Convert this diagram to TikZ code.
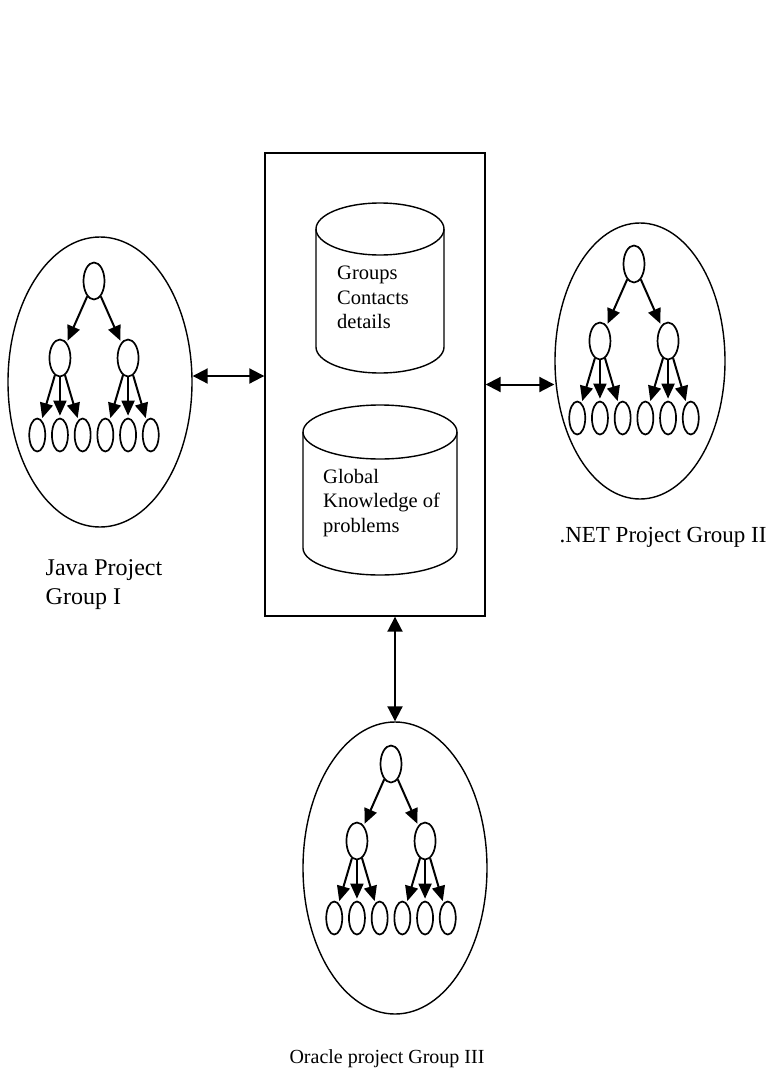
\documentclass[tikz,border=0pt]{standalone}
\usepackage{fontspec}
\setmainfont{Liberation Serif}
\usepackage{tikz-qtree}
\usetikzlibrary{shapes.geometric, arrows.meta, positioning}

\tikzset{
  projgroup/.style={draw, ellipse, line width=1.4pt, inner sep=0pt},
  inode/.style={draw, ellipse, line width=1.7pt, inner sep=0pt, minimum width=21pt, minimum height=37pt},
  lnode/.style={draw, ellipse, line width=1.7pt, inner sep=0pt, minimum width=16pt, minimum height=33pt},
  link/.style={line width=2pt, {Triangle[length=15pt,width=15pt]}-{Triangle[length=15pt,width=15pt]}},
  grouplabel/.style={inner sep=0pt, align=left},
  dbtext/.style={inner sep=0pt, align=left, anchor=north west, font=\fontsize{20.5}{24.5}\selectfont},
}

% one project group: lead, two sub-leads, six members
\newcommand{\grouptree}[1]{%
  \Tree [.\node[inode](#1r){};
          [.\node[inode](#1a){}; \node[lnode](#1a1){}; \node[lnode](#1a2){}; \node[lnode](#1a3){}; ]
          [.\node[inode](#1b){}; \node[lnode](#1b1){}; \node[lnode](#1b2){}; \node[lnode](#1b3){}; ]
        ]}

\begin{document}
\begin{tikzpicture}[x=1pt, y=1pt,
    level distance=77pt, sibling distance=5pt,
    edge from parent/.style={draw, line width=2pt, -{Triangle[length=15pt,width=13pt]}, shorten >=2pt,
      edge from parent path={(\tikzparentnode) -- (\tikzchildnode)}}]
\useasboundingbox (0,0) rectangle (775,-1071);

% central repository
\node[draw, line width=1.4pt, minimum width=220pt, minimum height=463pt, inner sep=0pt] (repo) at (375,-384.5) {};

% databases
\draw[line width=1.4pt] (316,-229) -- (316,-347) arc[start angle=180, end angle=360, x radius=64pt, y radius=26pt] -- (444,-229);
\draw[line width=1.4pt] (380,-229) ellipse [x radius=64pt, y radius=26pt];
\node[dbtext] (contacts) at (337,-266) {Groups\\Contacts\\details};

\draw[line width=1.4pt] (303,-432) -- (303,-548) arc[start angle=180, end angle=360, x radius=77pt, y radius=27pt] -- (457,-432);
\draw[line width=1.4pt] (380,-432) ellipse [x radius=77pt, y radius=27pt];
\node[dbtext] (knowledge) at (323,-469) {Global\\Knowledge of\\problems};

% project groups
\node[projgroup, minimum width=184pt, minimum height=290pt] (java) at (100,-382) {};
\begin{scope}[shift={(94,-281)}] \grouptree{j} \end{scope}
\node[grouplabel, font=\fontsize{24}{29}\selectfont, below=32pt of java, xshift=4pt] (javalabel) {Java Project\\Group I};

\node[projgroup, minimum width=170pt, minimum height=276pt] (net) at (640,-361) {};
\begin{scope}[shift={(634,-264)}] \grouptree{n} \end{scope}
\node[grouplabel, font=\fontsize{23}{28}\selectfont, below=27pt of net, xshift=23pt] (netlabel) {.NET Project Group II};

\node[projgroup, minimum width=184pt, minimum height=292pt] (oracle) at (395,-868) {};
\begin{scope}[shift={(391,-764)}] \grouptree{o} \end{scope}
\node[grouplabel, font=\fontsize{20}{24}\selectfont, below=35pt of oracle, xshift=-8pt] (oraclelabel) {Oracle project Group III};

% links to the repository
\draw[link] ([yshift=6pt]java.east) -- ([yshift=6pt]java.east -| repo.west);
\draw[link] (repo.east) -- (repo.east -| net.west);
\draw[link] (oracle.north |- repo.south) -- (oracle.north);
\end{tikzpicture}
\end{document}
